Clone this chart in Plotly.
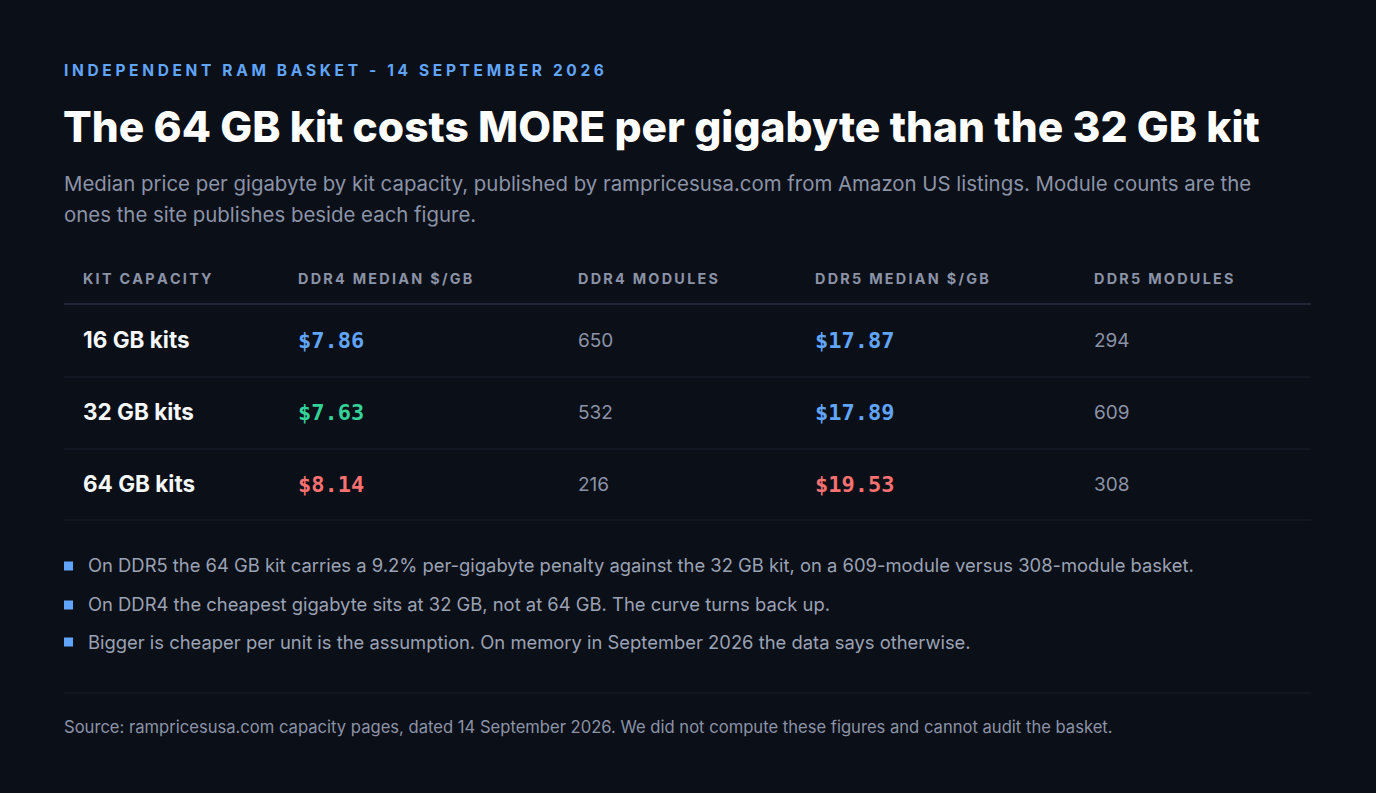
import plotly.graph_objects as go

# data
capacities = ["16 GB kits", "32 GB kits", "64 GB kits"]
ddr4_price = [7.86, 7.63, 8.14]
ddr4_modules = [650, 532, 216]
ddr5_price = [17.87, 17.89, 19.53]
ddr5_modules = [294, 609, 308]
col_headers = ["KIT CAPACITY", "DDR4 MEDIAN $/GB", "DDR4 MODULES", "DDR5 MEDIAN $/GB", "DDR5 MODULES"]
notes = [
    "On DDR5 the 64 GB kit carries a 9.2% per-gigabyte penalty against the 32 GB kit, on a 609-module versus 308-module basket.",
    "On DDR4 the cheapest gigabyte sits at 32 GB, not at 64 GB. The curve turns back up.",
    "Bigger is cheaper per unit is the assumption. On memory in September 2026 the data says otherwise.",
]

# styles
W, H = 1376, 793
BG = "#0b0f17"
BLUE = "#60a5fa"
GREEN = "#34d399"
RED = "#f87171"
GREY = "#8b93a7"
FONT = "Inter, Noto Sans, sans-serif"
MONO = "DejaVu Sans Mono, monospace"
ddr4_colors = [BLUE, GREEN, RED]
ddr5_colors = [BLUE, BLUE, RED]
col_x = [83, 298, 578, 815, 1094]


def py(px):
    return 1 - px / H


def spaced(s, sp="\u2009"):
    return sp.join(s)


fig = go.Figure()

fig.add_trace(go.Scatter(x=[col_x[0]] * 3, y=capacities, mode="text", text=capacities,
                         textposition="middle right",
                         textfont=dict(family=FONT, size=22.5, color="#f5f7fa", weight=700)))
fig.add_trace(go.Scatter(x=[col_x[1]] * 3, y=capacities, mode="text",
                         text=["$%.2f" % v for v in ddr4_price], textposition="middle right",
                         textfont=dict(family=MONO, size=22, color=ddr4_colors, weight=700)))
fig.add_trace(go.Scatter(x=[col_x[2]] * 3, y=capacities, mode="text",
                         text=[str(v) for v in ddr4_modules], textposition="middle right",
                         textfont=dict(family=FONT, size=19, color=GREY)))
fig.add_trace(go.Scatter(x=[col_x[3]] * 3, y=capacities, mode="text",
                         text=["$%.2f" % v for v in ddr5_price], textposition="middle right",
                         textfont=dict(family=MONO, size=22, color=ddr5_colors, weight=700)))
fig.add_trace(go.Scatter(x=[col_x[4]] * 3, y=capacities, mode="text",
                         text=[str(v) for v in ddr5_modules], textposition="middle right",
                         textfont=dict(family=FONT, size=19, color=GREY)))

ann = []
ann.append(dict(x=62, y=py(71), text=spaced("INDEPENDENT RAM BASKET - 14 SEPTEMBER 2026", "\u2009\u200a"),
                font=dict(family=FONT, size=15.5, color=BLUE, weight=700)))
ann.append(dict(x=61, y=py(126), text="The 64 GB kit costs MORE per gigabyte than the 32 GB kit",
                font=dict(family=FONT, size=42.5, color="#ffffff", weight=800)))
ann.append(dict(x=62, y=py(183), text="Median price per gigabyte by kit capacity, published by rampricesusa.com from Amazon US listings. Module counts are the",
                font=dict(family=FONT, size=20.4, color=GREY)))
ann.append(dict(x=62, y=py(214), text="ones the site publishes beside each figure.",
                font=dict(family=FONT, size=20.4, color=GREY)))
for cx, h in zip(col_x, col_headers):
    ann.append(dict(x=cx - 2, y=py(279), text=spaced(h), font=dict(family=FONT, size=14.4, color=GREY, weight=700)))
for i, n in enumerate(notes):
    ann.append(dict(x=86, y=py([565, 604, 642][i]), text=n, font=dict(family=FONT, size=18.4, color="#9aa2b4")))
ann.append(dict(x=62, y=py(727), text="Source: rampricesusa.com capacity pages, dated 14 September 2026. We did not compute these figures and cannot audit the basket.",
                font=dict(family=FONT, size=16.6, color=GREY)))
for a in ann:
    a.update(xref="x", yref="paper", xanchor="left", yanchor="middle", showarrow=False)

shapes = []
shapes.append(dict(type="line", x0=64, x1=1311, y0=py(304), y1=py(304), line=dict(color="#1f2533", width=2)))
for yy in [377, 449, 520]:
    shapes.append(dict(type="line", x0=64, x1=1311, y0=py(yy), y1=py(yy), line=dict(color="#1a1f2a", width=1)))
shapes.append(dict(type="line", x0=64, x1=1311, y0=py(693), y1=py(693), line=dict(color="#1a1f2a", width=1)))
for yy in [566, 605, 642]:
    shapes.append(dict(type="rect", x0=64, x1=73, y0=py(yy - 4.5), y1=py(yy + 4.5),
                       fillcolor=BLUE, line=dict(width=0)))
for s in shapes:
    s.update(xref="x", yref="paper")

fig.update_layout(
    width=W, height=H, margin=dict(l=0, r=0, t=0, b=0),
    paper_bgcolor=BG, plot_bgcolor=BG, showlegend=False,
    annotations=ann, shapes=shapes,
    xaxis=dict(range=[0, W], visible=False, fixedrange=True),
    yaxis=dict(type="category", categoryarray=capacities, range=[2.5, -0.5],
               domain=[py(522), py(306)], visible=False, fixedrange=True),
)

fig.write_html("out.html", config={"displayModeBar": False},
               post_script="document.body.style.margin='0';document.body.style.background='%s';" % BG)
